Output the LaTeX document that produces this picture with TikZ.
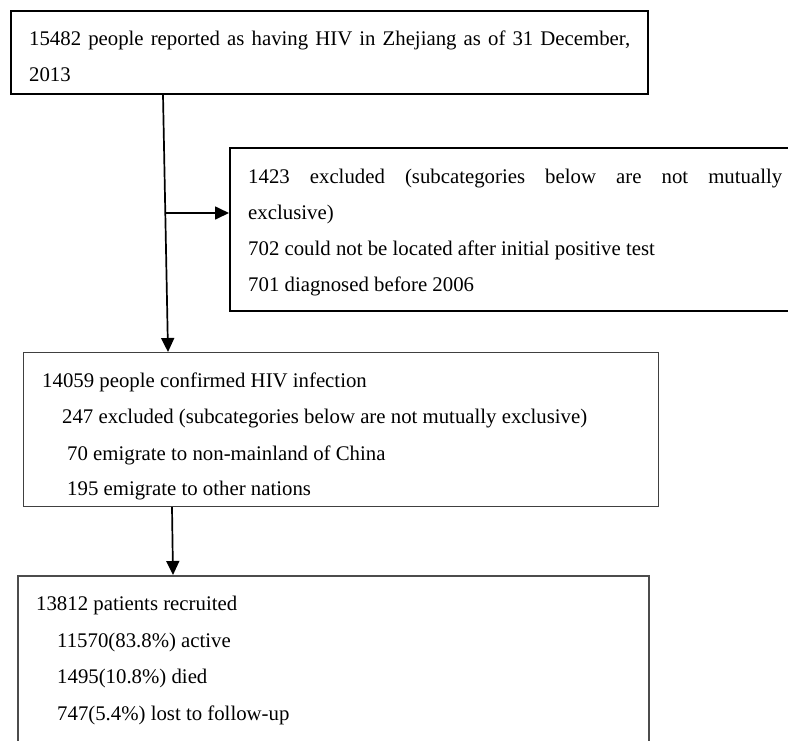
\documentclass[tikz,border=0pt]{standalone}
\usepackage{fontspec}
\setmainfont{Liberation Serif}
\usetikzlibrary{arrows.meta}
\begin{document}
\begin{tikzpicture}[x=1pt,y=-1pt,
  boxbase/.style={rectangle,inner sep=0pt,anchor=north west},
  boxa/.style={boxbase,draw=black,line width=1.6pt},
  boxb/.style={boxbase,draw=black,line width=2pt},
  boxc/.style={boxbase,draw=black!75,line width=1.2pt},
  boxd/.style={boxbase,draw=black!70,line width=1.6pt},
  txt/.style={anchor=base west,inner sep=0pt,font=\fontsize{20.8}{24}\selectfont},
  arr/.style={draw=black,line width=1.7pt,-{Triangle[length=14pt,width=13pt]}}]
\useasboundingbox (0,0) rectangle (788,740);
\clip (0,0) rectangle (788,740);
\fill[white] (0,0) rectangle (788,740);

% boxes
\node[boxa,minimum width=637pt,minimum height=83pt] (b1) at (10,10) {};
\node[boxb,minimum width=620pt,minimum height=163pt] (b2) at (229,147) {};
\node[boxc,minimum width=635pt,minimum height=154pt] (b3) at (23,352) {};
\node[boxd,minimum width=631pt,minimum height=220pt] (b4) at (17,575) {};

% texts box 1
\node[txt] (t1a) at (29,45) {\makebox[601pt][s]{15482 people reported as having HIV in Zhejiang as of 31 December,}};
\node[txt] (t1b) at (29,81) {2013};

% texts box 2
\node[txt] (t2a) at (248,183) {\makebox[534pt][s]{1423 excluded (subcategories below are not mutually}};
\node[txt] (t2b) at (248,219) {exclusive)};
\node[txt] (t2c) at (248,255) {702 could not be located after initial positive test};
\node[txt] (t2d) at (248,291) {701 diagnosed before 2006};

% texts box 3
\node[txt] (t3a) at (42,387) {14059 people confirmed HIV infection};
\node[txt] (t3b) at (62,423) {247 excluded (subcategories below are not mutually exclusive)};
\node[txt] (t3c) at (67,460) {70 emigrate to non-mainland of China};
\node[txt] (t3d) at (67,495) {195 emigrate to other nations};

% texts box 4
\node[txt] (t4a) at (36,610) {13812 patients recruited};
\node[txt] (t4b) at (57,647) {11570(83.8\%) active};
\node[txt] (t4c) at (57,683) {1495(10.8\%) died};
\node[txt] (t4d) at (57,720) {747(5.4\%) lost to follow-up};

% connectors
\coordinate (h0) at (166,213);
\draw[arr] ([xshift=153pt]b1.south west) -- ([xshift=145pt]b3.north west);
\draw[arr] (h0) -- (b2.west |- h0);
\draw[arr] ([xshift=149pt]b3.south west) -- ([xshift=156pt]b4.north west);
\end{tikzpicture}
\end{document}
